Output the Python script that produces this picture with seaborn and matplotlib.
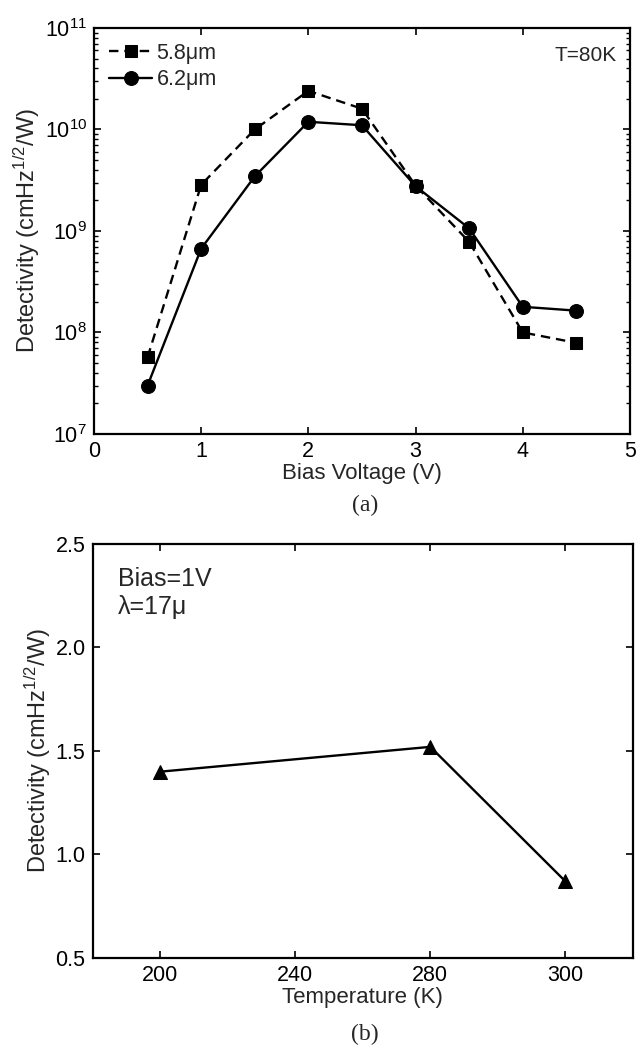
import numpy as np
import pandas as pd
import matplotlib
matplotlib.use("Agg")
import matplotlib.pyplot as plt
import seaborn as sns
from matplotlib.ticker import LogLocator, LogFormatterMathtext, NullFormatter

# ---------------- data ----------------
bias_v = [0.5, 1.0, 1.5, 2.0, 2.5, 3.0, 3.5, 4.0, 4.5]
det_58 = [5.7e7, 2.85e9, 1.0e10, 2.4e10, 1.6e10, 2.8e9, 7.8e8, 1.0e8, 7.9e7]
det_62 = [3.0e7, 6.7e8, 3.45e9, 1.19e10, 1.1e10, 2.76e9, 1.06e9, 1.79e8, 1.64e8]
series_labels = ["5.8\u03bcm", "6.2\u03bcm"]

temp_ticks = ["200", "240", "280", "300"]
temp_vals = ["200", "280", "300"]
det_temp = [1.40, 1.52, 0.87]

# ---------------- style ----------------
sns.set_style("ticks")
plt.rcParams["font.family"] = ["Liberation Sans", "DejaVu Sans"]
plt.rcParams["mathtext.fontset"] = "custom"
plt.rcParams["mathtext.rm"] = "Liberation Sans"
plt.rcParams["mathtext.it"] = "Liberation Sans"
plt.rcParams["mathtext.bf"] = "Liberation Sans"
plt.rcParams["axes.edgecolor"] = "black"
plt.rcParams["axes.linewidth"] = 1.6
plt.rcParams["xtick.color"] = "black"
plt.rcParams["ytick.color"] = "black"

fig = plt.figure(figsize=(6.38, 10.51), dpi=100)
ax1 = fig.add_axes([0.1473, 0.5871, 0.8401, 0.3863])
ax2 = fig.add_axes([0.1450, 0.0885, 0.8472, 0.3939])

TFS = 15.5
LFS = 16
YFS = 17
ylab = r"Detectivity (cmHz$^{1/2}$/W)"

# ---------------- panel (a) ----------------
df_a = pd.DataFrame({"V": bias_v, "d58": det_58, "d62": det_62})
sns.lineplot(data=df_a, x="V", y="d58", ax=ax1, color="black", marker="s",
             markersize=8.5, markeredgecolor="black", linewidth=1.7,
             linestyle=(0, (4, 2.5)), label=series_labels[0])
sns.lineplot(data=df_a, x="V", y="d62", ax=ax1, color="black", marker="o",
             markersize=10, markeredgecolor="black", linewidth=1.7,
             linestyle="-", label=series_labels[1])
ax1.set_yscale("log")
ax1.set_xlim(0, 5)
ax1.set_ylim(1e7, 1e11)
ax1.set_xticks([0, 1, 2, 3, 4, 5])
ax1.set_xticklabels(["0", "1", "2", "3", "4", "5"])
ax1.yaxis.set_major_locator(LogLocator(base=10, numticks=10))
ax1.yaxis.set_major_formatter(LogFormatterMathtext())
ax1.yaxis.set_minor_locator(LogLocator(base=10, subs=np.arange(2, 10), numticks=20))
ax1.yaxis.set_minor_formatter(NullFormatter())
ax1.tick_params(which="major", direction="in", length=5, width=1.2,
                top=True, right=True, labelsize=TFS, pad=5)
ax1.tick_params(which="minor", direction="in", length=3, width=1.0,
                left=True, right=True)
ax1.set_xlabel("Bias Voltage (V)", fontsize=LFS, labelpad=1)
ax1.set_ylabel(ylab, fontsize=YFS, labelpad=2)
leg = ax1.legend(loc="upper left", frameon=False, fontsize=15.5,
                 handlelength=2.0, handletextpad=0.2, borderaxespad=0.3,
                 labelspacing=0.25)
ax1.text(0.975, 0.955, "T=80K", transform=ax1.transAxes, ha="right",
         va="top", fontsize=15)
fig.text(0.572, 0.519, "(a)", ha="center", va="center", fontsize=17,
         family="Liberation Serif")

# ---------------- panel (b) ----------------
xpos = [temp_ticks.index(t) for t in temp_vals]
df_b = pd.DataFrame({"pos": xpos, "det": det_temp})
sns.lineplot(data=df_b, x="pos", y="det", ax=ax2, color="black", marker="^",
             markersize=10, markeredgecolor="black", linewidth=1.7)
ax2.set_xlim(-0.5, 3.5)
ax2.set_ylim(0.5, 2.5)
ax2.set_xticks(range(len(temp_ticks)))
ax2.set_xticklabels(temp_ticks)
ax2.set_yticks([0.5, 1.0, 1.5, 2.0, 2.5])
ax2.set_yticklabels(["0.5", "1.0", "1.5", "2.0", "2.5"])
ax2.tick_params(which="major", direction="in", length=5, width=1.2,
                top=True, right=True, labelsize=TFS, pad=5)
ax2.set_xlabel("Temperature (K)", fontsize=LFS, labelpad=1)
ax2.set_ylabel(ylab, fontsize=YFS, labelpad=2)
ax2.text(0.047, 0.945, "Bias=1V\n\u03bb=17\u03bc", transform=ax2.transAxes,
         ha="left", va="top", fontsize=18, linespacing=1.2)
fig.text(0.572, 0.016, "(b)", ha="center", va="center", fontsize=17,
         family="Liberation Serif")

fig.savefig("out.png", dpi=100)
